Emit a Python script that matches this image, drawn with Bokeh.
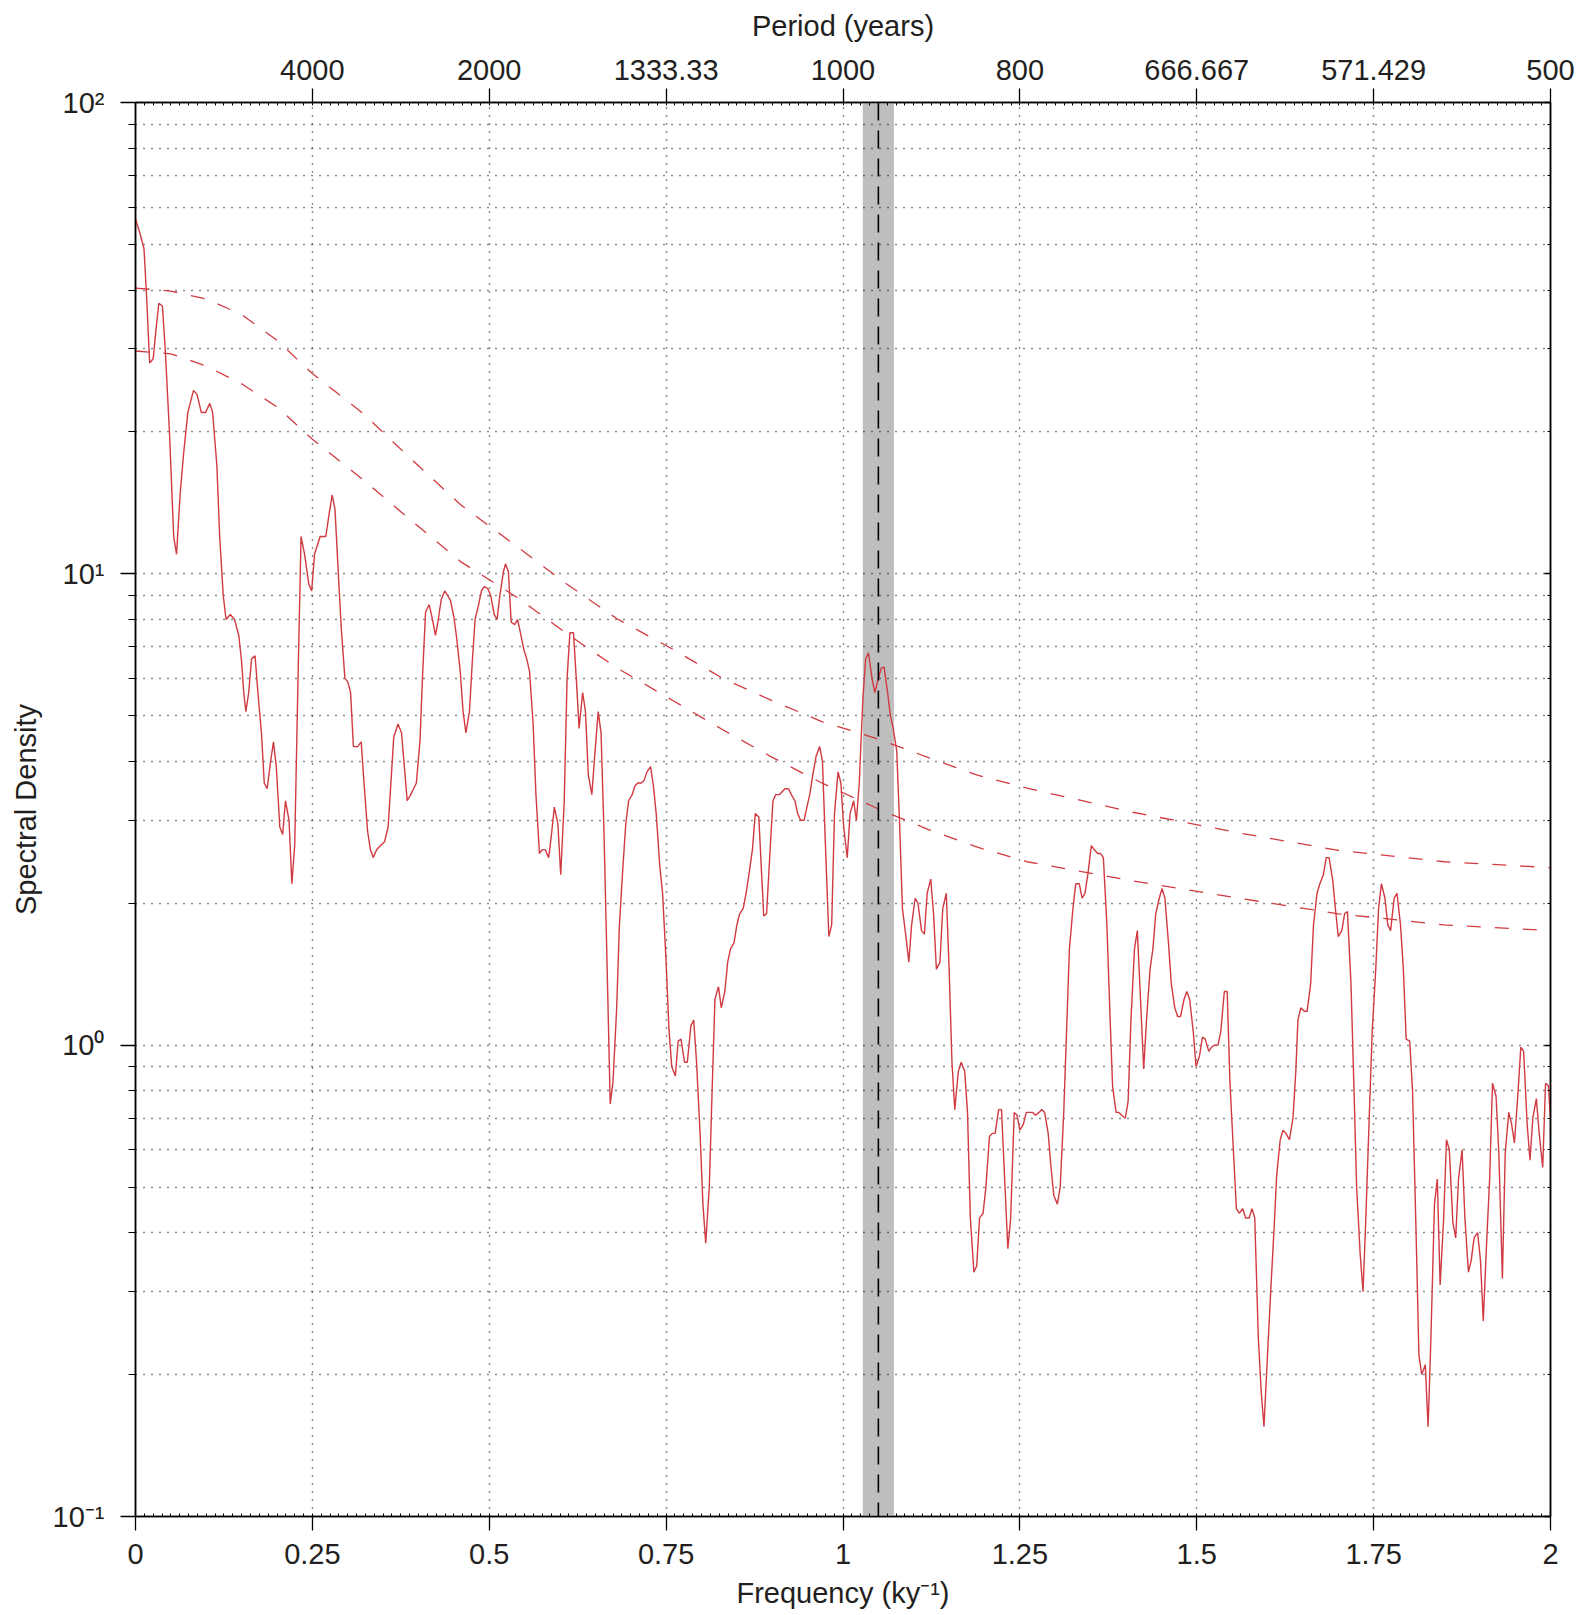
from bokeh.plotting import figure
from bokeh.models import (LinearAxis, LogAxis, FixedTicker, BoxAnnotation, Span)
from bokeh.embed import file_html
from bokeh.resources import INLINE

# ---------------- data ----------------
freq = [0.000, 0.006, 0.012, 0.016, 0.020, 0.025, 0.029, 0.033, 0.038, 0.042, 0.048, 0.054, 0.058, 0.063,
        0.068, 0.074, 0.082, 0.087, 0.093, 0.099, 0.105, 0.109, 0.115, 0.119, 0.124, 0.128, 0.134, 0.140,
        0.146, 0.150, 0.153, 0.156, 0.160, 0.164, 0.169, 0.173, 0.178, 0.182, 0.186, 0.191, 0.195, 0.199,
        0.204, 0.208, 0.212, 0.217, 0.221, 0.225, 0.230, 0.234, 0.239, 0.245, 0.249, 0.253, 0.261, 0.265,
        0.269, 0.274, 0.278, 0.282, 0.287, 0.291, 0.296, 0.300, 0.304, 0.308, 0.314, 0.319, 0.323, 0.328,
        0.332, 0.336, 0.341, 0.346, 0.352, 0.357, 0.361, 0.365, 0.371, 0.376, 0.380, 0.384, 0.389, 0.393,
        0.397, 0.402, 0.406, 0.410, 0.415, 0.419, 0.424, 0.428, 0.432, 0.437, 0.441, 0.445, 0.450, 0.454,
        0.459, 0.463, 0.467, 0.472, 0.476, 0.480, 0.485, 0.489, 0.493, 0.498, 0.502, 0.507, 0.511, 0.515,
        0.520, 0.523, 0.527, 0.531, 0.536, 0.540, 0.544, 0.549, 0.553, 0.557, 0.562, 0.566, 0.571, 0.575,
        0.579, 0.584, 0.588, 0.592, 0.597, 0.601, 0.606, 0.610, 0.614, 0.619, 0.623, 0.627, 0.632, 0.636,
        0.640, 0.645, 0.649, 0.654, 0.658, 0.662, 0.667, 0.671, 0.675, 0.680, 0.684, 0.689, 0.693, 0.697,
        0.702, 0.706, 0.710, 0.715, 0.719, 0.723, 0.728, 0.732, 0.736, 0.741, 0.745, 0.750, 0.754, 0.758,
        0.763, 0.767, 0.771, 0.776, 0.780, 0.785, 0.789, 0.793, 0.798, 0.802, 0.806, 0.811, 0.815, 0.819,
        0.824, 0.828, 0.833, 0.837, 0.841, 0.846, 0.850, 0.854, 0.859, 0.863, 0.867, 0.872, 0.876, 0.881,
        0.885, 0.888, 0.892, 0.897, 0.901, 0.905, 0.910, 0.914, 0.918, 0.923, 0.927, 0.932, 0.936, 0.940,
        0.945, 0.949, 0.953, 0.958, 0.962, 0.967, 0.971, 0.975, 0.980, 0.984, 0.988, 0.993, 0.997, 1.001,
        1.006, 1.010, 1.015, 1.019, 1.023, 1.028, 1.032, 1.036, 1.041, 1.045, 1.050, 1.054, 1.058, 1.063,
        1.067, 1.071, 1.076, 1.080, 1.084, 1.089, 1.093, 1.097, 1.102, 1.106, 1.111, 1.115, 1.119, 1.124,
        1.128, 1.132, 1.137, 1.141, 1.146, 1.150, 1.154, 1.158, 1.163, 1.167, 1.172, 1.176, 1.180, 1.185,
        1.189, 1.193, 1.198, 1.202, 1.207, 1.211, 1.215, 1.220, 1.224, 1.229, 1.233, 1.237, 1.242, 1.246,
        1.250, 1.255, 1.259, 1.263, 1.268, 1.272, 1.277, 1.281, 1.285, 1.290, 1.294, 1.298, 1.303, 1.307,
        1.312, 1.316, 1.320, 1.325, 1.329, 1.334, 1.338, 1.342, 1.346, 1.351, 1.355, 1.360, 1.364, 1.368,
        1.373, 1.377, 1.381, 1.386, 1.390, 1.394, 1.399, 1.403, 1.407, 1.412, 1.416, 1.420, 1.425, 1.429,
        1.434, 1.438, 1.442, 1.447, 1.451, 1.455, 1.460, 1.464, 1.469, 1.473, 1.477, 1.482, 1.486, 1.490,
        1.495, 1.499, 1.504, 1.508, 1.512, 1.517, 1.521, 1.525, 1.530, 1.534, 1.539, 1.543, 1.547, 1.552,
        1.556, 1.560, 1.565, 1.569, 1.574, 1.578, 1.582, 1.587, 1.591, 1.595, 1.600, 1.605, 1.609, 1.613,
        1.618, 1.622, 1.626, 1.631, 1.636, 1.640, 1.643, 1.647, 1.652, 1.656, 1.661, 1.665, 1.670, 1.674,
        1.679, 1.683, 1.687, 1.692, 1.696, 1.700, 1.705, 1.709, 1.713, 1.718, 1.722, 1.726, 1.731, 1.735,
        1.739, 1.744, 1.748, 1.753, 1.757, 1.761, 1.766, 1.770, 1.774, 1.779, 1.783, 1.788, 1.792, 1.796,
        1.801, 1.805, 1.810, 1.814, 1.818, 1.823, 1.827, 1.831, 1.836, 1.840, 1.844, 1.849, 1.853, 1.857,
        1.862, 1.866, 1.870, 1.875, 1.879, 1.884, 1.888, 1.892, 1.897, 1.901, 1.905, 1.910, 1.914, 1.918,
        1.923, 1.927, 1.932, 1.936, 1.941, 1.945, 1.949, 1.954, 1.958, 1.962, 1.967, 1.971, 1.975, 1.980,
        1.984, 1.989, 1.993, 1.997, 2.000]

density = [56.6, 53, 49, 38, 28, 28.6, 33, 37.5, 37, 30, 20, 12, 11, 14.7,
           18, 22, 24.5, 24, 22, 22, 23, 22, 17, 12, 9, 8, 8.2, 8,
           7.4, 6.5, 5.6, 5.1, 5.6, 6.6, 6.7, 5.6, 4.6, 3.6, 3.5, 4.0, 4.4, 3.9,
           2.9, 2.8, 3.3, 3.0, 2.2, 2.65, 6.3, 12, 11, 9.5, 9.2, 11, 12, 12,
           12, 13.5, 14.7, 13.7, 9.8, 7.6, 6.0, 5.9, 5.6, 4.3, 4.3, 4.4, 3.6, 2.85,
           2.6, 2.5, 2.6, 2.65, 2.7, 2.9, 3.6, 4.5, 4.8, 4.6, 3.9, 3.3, 3.4, 3.5,
           3.6, 4.4, 6.2, 8.3, 8.6, 8.1, 7.4, 8.0, 8.8, 9.2, 9.0, 8.8, 8.1, 7.3,
           6.2, 5.1, 4.6, 5.1, 6.5, 8.0, 8.6, 9.2, 9.4, 9.3, 9.0, 8.2, 8.0, 9.0,
           10.1, 10.5, 10.1, 7.9, 7.8, 8.0, 7.5, 6.9, 6.6, 6.2, 4.8, 3.4, 2.55, 2.6,
           2.6, 2.5, 2.8, 3.2, 2.95, 2.3, 3.3, 6.0, 7.5, 7.5, 6.0, 4.7, 5.6, 5.1,
           3.75, 3.4, 4.1, 5.1, 4.6, 2.9, 1.38, 0.75, 0.84, 1.19, 1.8, 2.4, 2.95, 3.3,
           3.4, 3.55, 3.6, 3.6, 3.65, 3.8, 3.9, 3.55, 3.1, 2.4, 2.1, 1.5, 1.08, 0.9,
           0.86, 1.02, 1.03, 0.92, 0.92, 1.1, 1.13, 0.92, 0.65, 0.46, 0.38, 0.5, 0.8, 1.25,
           1.33, 1.2, 1.3, 1.5, 1.6, 1.65, 1.8, 1.9, 1.95, 2.1, 2.3, 2.6, 3.1, 3.05,
           2.3, 1.88, 1.9, 2.6, 3.3, 3.4, 3.4, 3.45, 3.5, 3.5, 3.4, 3.3, 3.1, 3.0,
           3.0, 3.2, 3.4, 3.8, 4.1, 4.3, 4.0, 2.7, 1.7, 1.8, 3.1, 3.8, 3.6, 2.9,
           2.5, 3.1, 3.3, 3.0, 3.6, 5.4, 6.6, 6.8, 6.0, 5.6, 6.0, 6.3, 6.35, 5.6,
           5.0, 4.7, 4.2, 2.95, 1.95, 1.7, 1.5, 1.8, 2.05, 2.0, 1.75, 1.72, 2.1, 2.25,
           1.9, 1.45, 1.5, 1.95, 2.1, 1.45, 0.92, 0.73, 0.88, 0.92, 0.88, 0.72, 0.43, 0.33,
           0.34, 0.43, 0.44, 0.5, 0.64, 0.65, 0.65, 0.73, 0.73, 0.5, 0.37, 0.43, 0.72, 0.71,
           0.66, 0.68, 0.72, 0.72, 0.72, 0.71, 0.72, 0.73, 0.72, 0.65, 0.55, 0.48, 0.46, 0.5,
           0.72, 1.07, 1.6, 1.95, 2.2, 2.2, 2.05, 2.1, 2.3, 2.65, 2.6, 2.55, 2.55, 2.5,
           1.8, 1.2, 0.82, 0.72, 0.72, 0.71, 0.7, 0.76, 1.13, 1.6, 1.75, 1.3, 0.89, 1.13,
           1.45, 1.6, 1.9, 2.05, 2.15, 2.05, 1.65, 1.35, 1.2, 1.15, 1.15, 1.25, 1.3, 1.25,
           1.07, 0.9, 0.95, 1.04, 1.03, 0.97, 0.99, 1.0, 1.0, 1.07, 1.3, 1.3, 0.83, 0.59,
           0.45, 0.44, 0.45, 0.43, 0.43, 0.45, 0.43, 0.24, 0.185, 0.155, 0.22, 0.31, 0.4, 0.53,
           0.63, 0.66, 0.65, 0.63, 0.70, 0.88, 1.13, 1.2, 1.18, 1.18, 1.35, 1.8, 2.1, 2.2,
           2.3, 2.5, 2.5, 2.25, 1.95, 1.7, 1.75, 1.9, 1.92, 1.35, 0.83, 0.5, 0.36, 0.30,
           0.43, 0.72, 1.07, 1.45, 1.95, 2.2, 2.05, 1.8, 1.75, 2.05, 2.1, 1.8, 1.45, 1.03,
           1.02, 0.8, 0.4, 0.22, 0.2, 0.21, 0.155, 0.24, 0.46, 0.52, 0.31, 0.43, 0.63, 0.6,
           0.42, 0.39, 0.52, 0.6, 0.43, 0.33, 0.35, 0.39, 0.40, 0.35, 0.26, 0.39, 0.52, 0.83,
           0.78, 0.59, 0.32, 0.59, 0.72, 0.68, 0.62, 0.79, 0.99, 0.97, 0.68, 0.57, 0.70, 0.77,
           0.65, 0.55, 0.83, 0.82, 0.70]

# red-noise background and its confidence level (dashed curves)
rn_freq = [0, 0.05, 0.1, 0.15, 0.2, 0.25, 0.32, 0.39, 0.46, 0.54, 0.61, 0.68, 0.76,
           0.83, 0.9, 0.97, 1.05, 1.12, 1.19, 1.26, 1.41, 1.56, 1.7, 1.85, 2.0]
rn_upper = [40.4, 39.8, 38.3, 35.5, 31.3, 26.6, 22.0, 17.5, 14.0, 11.4, 9.5, 8.04, 6.91,
            6.0, 5.38, 4.86, 4.46, 4.08, 3.74, 3.51, 3.12, 2.82, 2.59, 2.45, 2.38]
rn_lower = [29.7, 29.3, 27.6, 25.3, 22.6, 19.3, 15.9, 12.97, 10.6, 8.9, 7.46, 6.32, 5.38,
            4.67, 4.08, 3.6, 3.17, 2.87, 2.63, 2.45, 2.23, 2.05, 1.90, 1.80, 1.75]

# highlighted band and its centre line
band_freq = [1.028, 1.072]
peak_freq = 1.05

# axis ticks and labels
x_ticks = [0, 0.25, 0.5, 0.75, 1.0, 1.25, 1.5, 1.75, 2.0]
x_labels = ["0", "0.25", "0.5", "0.75", "1", "1.25", "1.5", "1.75", "2"]
period_ticks = [0.25, 0.5, 0.75, 1.0, 1.25, 1.5, 1.75, 2.0]
period_labels = ["4000", "2000", "1333.33", "1000", "800", "666.667", "571.429", "500"]
y_ticks = [0.1, 1, 10, 100]
y_labels = ["10\u207b\u00b9", "10\u2070", "10\u00b9", "10\u00b2"]
y_minor = [m * d for d in (0.1, 1, 10) for m in range(2, 10)]
x_minor = [i * 0.0125 for i in range(161)]

# ---------------- style ----------------
RED = "#d13a40"
TXT = "#231f20"
FONT = "Liberation Sans"
FS = "29px"

p = figure(width=1575, height=1611, x_range=(0, 2), y_range=(0.1, 100),
           y_axis_type="log", output_backend="svg", toolbar_location=None,
           min_border_left=135, min_border_right=25, min_border_top=102,
           min_border_bottom=95)
p.background_fill_color = "white"
p.border_fill_color = "white"
p.outline_line_color = "black"
p.outline_line_width = 1.5

# band under the grid
p.add_layout(BoxAnnotation(left=band_freq[0], right=band_freq[1], fill_color="#bebebe",
                           fill_alpha=1.0, line_color=None, level="image"))

# grids (dotted)
for g in (p.xgrid, p.ygrid):
    g.grid_line_color = "black"
    g.grid_line_dash = "1 7"
    g.grid_line_width = 1.4
    g.grid_line_alpha = 0.9
p.xgrid.minor_grid_line_color = None
p.ygrid.minor_grid_line_color = "black"
p.ygrid.minor_grid_line_dash = "1 7"
p.ygrid.minor_grid_line_width = 1.4
p.ygrid.minor_grid_line_alpha = 0.9

# data
p.line(rn_freq, rn_upper, line_color=RED, line_width=1.3, line_dash="14 14")
p.line(rn_freq, rn_lower, line_color=RED, line_width=1.3, line_dash="14 14")
p.line(freq, density, line_color=RED, line_width=1.4)

p.add_layout(Span(location=peak_freq, dimension="height", line_color="black",
                  line_width=1.6, line_dash="18 10"))


def style_axis(ax):
    ax.axis_line_color = "black"
    ax.axis_line_width = 1.5
    ax.major_tick_line_color = "black"
    ax.major_tick_line_width = 1.3
    ax.minor_tick_line_color = "black"
    ax.minor_tick_line_width = 1.0
    ax.major_label_text_font = FONT
    ax.major_label_text_font_size = FS
    ax.major_label_text_color = TXT
    ax.axis_label_text_font = FONT
    ax.axis_label_text_font_size = FS
    ax.axis_label_text_font_style = "normal"
    ax.axis_label_text_color = TXT


# bottom axis
xb = p.xaxis[0]
xb.ticker = FixedTicker(ticks=x_ticks, minor_ticks=x_minor)
xb.major_label_overrides = dict(zip(x_ticks, x_labels))
xb.axis_label = "Frequency (ky\u207b\u00b9)"
style_axis(xb)
xb.major_tick_in = 0
xb.major_tick_out = 14
xb.minor_tick_in = 3
xb.minor_tick_out = 0
xb.major_label_standoff = 13
xb.axis_label_standoff = 10

# left axis
yl = p.yaxis[0]
yl.ticker = FixedTicker(ticks=y_ticks, minor_ticks=y_minor)
yl.major_label_overrides = dict(zip(y_ticks, y_labels))
yl.axis_label = "Spectral Density"
style_axis(yl)
yl.major_tick_in = 0
yl.major_tick_out = 15
yl.minor_tick_in = 0
yl.minor_tick_out = 7
yl.major_label_standoff = 16
yl.axis_label_standoff = 8

# top axis (period)
xt = LinearAxis(ticker=FixedTicker(ticks=period_ticks, minor_ticks=x_minor),
                axis_label="Period (years)")
xt.major_label_overrides = dict(zip(period_ticks, period_labels))
style_axis(xt)
xt.major_tick_in = 0
xt.major_tick_out = 14
xt.minor_tick_in = 3
xt.minor_tick_out = 0
xt.major_label_standoff = 9
xt.axis_label_standoff = 15
p.add_layout(xt, "above")

# right axis (ticks only)
yr = LogAxis(ticker=FixedTicker(ticks=y_ticks, minor_ticks=y_minor))
style_axis(yr)
yr.major_label_text_font_size = "0px"
yr.major_label_text_alpha = 0
yr.major_tick_in = 6
yr.major_tick_out = 0
yr.minor_tick_in = 3
yr.minor_tick_out = 0
p.add_layout(yr, "right")

open("out.html", "w").write(file_html(p, INLINE))
